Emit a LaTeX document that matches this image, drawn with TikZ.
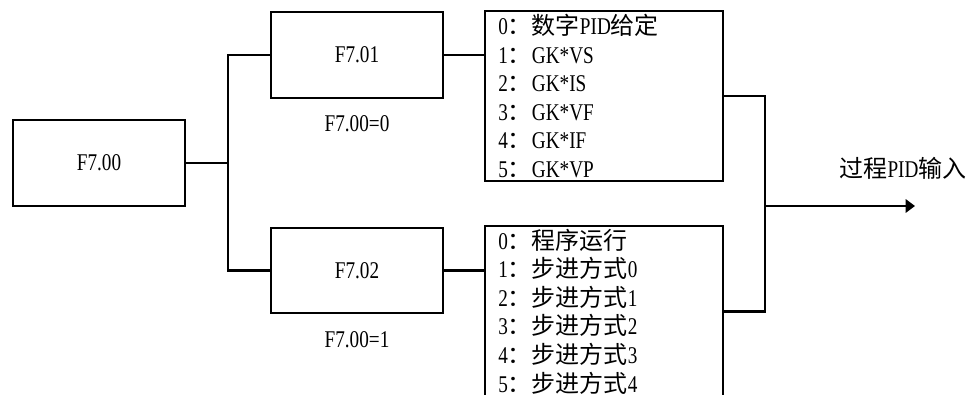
\documentclass[tikz,border=0pt]{standalone}
\usepackage{fontspec}
\setmainfont{Liberation Serif}[FakeStretch=0.8]
\newfontfamily\cjk{Noto Sans CJK SC}
\usepackage{tikz}
\usetikzlibrary{arrows.meta,positioning,calc}

\begin{document}
\begin{tikzpicture}[x=0.75pt,y=-0.75pt,>=Latex,
  box/.style={draw,line width=1.6pt,minimum width=129pt,minimum height=64pt,inner sep=0pt,font=\fontsize{18}{21}\selectfont},
  lst/.style={draw,line width=1.6pt,text width=158.5pt,inner xsep=10pt,inner ysep=0pt,minimum height=128pt,align=left,font=\fontsize{18}{21.45}\selectfont},
  lbl/.style={font=\fontsize{18}{21}\selectfont}]
\clip (0,0) rectangle (973,394);
\node[box] (f700) at (99,163) {F7.00};
\node[box] (f701) at (357,55) {F7.01};
\node[box] (f702) at (357,270.5) {F7.02};
\node[lbl] (c0) at (357,124) {F7.00=0};
\node[lbl] (c1) at (357,340) {F7.00=1};
\node[lst] (lst1) at (604,96) {0{\cjk ：数字}PID{\cjk 给定}\\1{\cjk ：}GK*VS\\2{\cjk ：}GK*IS\\3{\cjk ：}GK*VF\\4{\cjk ：}GK*IF\\5{\cjk ：}GK*VP};
\node[lst] (lst2) at (604,311.5) {0{\cjk ：程序运行}\\1{\cjk ：步进方式}0\\2{\cjk ：步进方式}1\\3{\cjk ：步进方式}2\\4{\cjk ：步进方式}3\\5{\cjk ：步进方式}4};
\coordinate (jn) at (228,163);
\coordinate (bus) at (765,206);
\coordinate (out) at (915,206);
\node[lbl] (pid) at (903,168) {{\cjk 过程}PID{\cjk 输入}};
\draw[line width=1.6pt] (f700.east) -- (jn);
\draw[line width=1.6pt] (f701.west) -| (jn) |- (f702.west);
\draw[line width=1.6pt] (f701.east) -- (f701.east -| lst1.west);
\draw[line width=1.6pt] (f702.east) -- (f702.east -| lst2.west);
\draw[line width=1.6pt] (lst1.east) -| (bus) |- (lst2.east);
\draw[line width=1.6pt,-{Triangle[length=7pt,width=10pt]}] (bus) -- (out);
\end{tikzpicture}
\end{document}
